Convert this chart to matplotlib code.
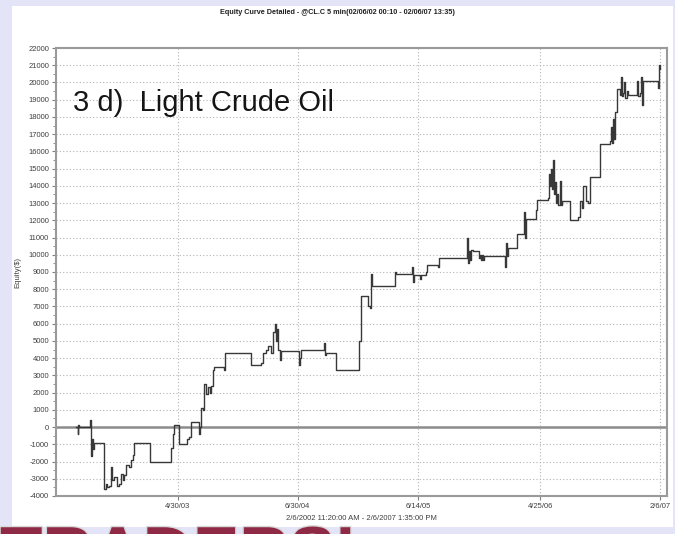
import matplotlib.pyplot as plt
import matplotlib.patheffects as pe
from matplotlib.patches import Rectangle
import numpy as np

plt.rcParams['font.family'] = ['Liberation Sans', 'DejaVu Sans']
plt.rcParams['axes.unicode_minus'] = False

# equity curve (x = bar position along the axis)
bar = [20, 22, 22.5, 23.5, 34, 35, 36, 37, 38, 48, 50, 51, 53, 55, 56, 58, 61, 63, 65, 67,
       68, 70, 73, 75, 77, 78, 94, 115, 117, 118, 123, 131, 133, 135, 143, 144, 145, 147,
       148, 150, 152, 154, 155, 157, 158, 168, 169, 195, 205, 207, 210, 212, 215, 217,
       219, 220, 221, 222, 224, 225, 243, 244, 245, 268, 269, 270, 280, 303, 305, 313,
       315, 316, 317, 340, 341, 357, 358, 359, 365, 366, 371, 372, 383, 384, 412, 413,
       414, 415, 416, 418, 424, 425, 426, 427, 428, 429, 450, 451, 452, 453, 462, 469,
       470, 471, 481, 482, 493, 494, 495, 496, 497, 498, 499, 500, 501, 502, 503, 505,
       506, 507, 515, 523, 525, 527, 528, 531, 533, 535, 545, 555, 556, 557, 558, 559,
       560, 562, 565, 566, 567, 568, 569, 570, 572, 573, 582, 583, 585, 586, 587, 588,
       603, 604, 605]
equity = [0, -400, 100, 0, 400, -1700, -700, -1300, -900, -3600, -3300, -3500, -3400,
          -2300, -3100, -2900, -3400, -3300, -2700, -3100, -2800, -2200, -2300, -1900,
          -1600, -900, -2000, -1200, -400, 100, -1000, -700, -600, 300, -400, 0, 1100,
          1000, 2500, 1900, 2300, 2000, 2400, 3300, 3500, 3300, 4300, 3600, 3700, 4300,
          4500, 4700, 4300, 5500, 6000, 5000, 5700, 4500, 3900, 4400, 3600, 4000, 4500,
          4900, 4200, 4300, 3300, 5000, 7600, 7000, 6900, 8900, 8200, 9000, 8900, 9300,
          8400, 8800, 8600, 8800, 9000, 9400, 9300, 9800, 11000, 9500, 10200, 9700, 10300,
          10200, 9800, 10000, 9700, 10000, 9700, 9900, 9300, 10700, 9900, 10400, 11200,
          12500, 11000, 12100, 12600, 13200, 13300, 14700, 14000, 15000, 13800, 15500,
          13500, 14200, 13000, 13500, 12900, 14300, 12900, 13100, 12000, 12200, 13100,
          12700, 14000, 13100, 13000, 14500, 16400, 16600, 17400, 16500, 17900, 16700,
          18300, 19600, 19300, 20300, 19200, 19400, 20000, 19100, 19500, 19300, 20100,
          19200, 19400, 20300, 18700, 20100, 19700, 21000, 20800]

tick_pos = [122, 242, 363, 485, 605]
tick_labels = ['4/30/03', '6/30/04', '6/14/05', '4/25/06', '2/6/07']

fig = plt.figure(figsize=(6.75, 5.34), dpi=100)
fig.patch.set_facecolor('#E4E4F8')

# white slide panel, kept behind the axes
fig.patches.append(Rectangle((12 / 675, 1 - 527 / 534), 661 / 675, 521 / 534,
                             transform=fig.transFigure, facecolor='white',
                             edgecolor='none', zorder=-5))

ax = fig.add_axes([56 / 675, 1 - 496 / 534, 611 / 675, 448 / 534])
ax.set_zorder(1)
ax.step(bar, equity, where='post', color='#383838', lw=1.0, zorder=3)
ax.axhline(0, color='#8c8c8c', lw=1.8, zorder=2)

ax.set_xlim(0, 612)
ax.set_ylim(-4000, 22000)
ax.set_xticks(tick_pos)
ax.set_xticklabels(tick_labels)
ax.set_yticks(np.arange(-4000, 22001, 1000))
ax.set_yticks(np.arange(-3500, 22000, 1000), minor=True)
ax.grid(True, which='major', color='#b4b4b4', linestyle=(0, (1, 2)), lw=0.8)
ax.tick_params(axis='both', which='major', labelsize=5.5, length=3, width=0.8,
               color='#808080', labelcolor='#404040', pad=2)
ax.tick_params(axis='y', which='minor', length=2, width=0.6, color='#808080')
for s in ax.spines.values():
    s.set_color('#9a9a9a')
    s.set_linewidth(1.5)

ax.set_ylabel('Equity($)', fontsize=5.5, color='#404040', labelpad=5)
ax.set_xlabel('2/6/2002 11:20:00 AM - 2/6/2007 1:35:00 PM', fontsize=5.5,
              color='#404040', labelpad=4)

fig.text(0.5, 1 - 13 / 534,
         'Equity Curve Detailed - @CL.C 5 min(02/06/02 00:10 - 02/06/07 13:35)',
         ha='center', va='center', fontsize=5.2, fontweight='bold', color='#202020')

ax.text(17, 18800, '3 d)  Light Crude Oil', fontsize=21, color='#151515',
        ha='left', va='center', zorder=4)

# logo strip at the bottom, mostly cut off
fig.text(0.0, 1 - 525 / 534, "TRADERS\u2019", ha='left', va='top', fontsize=50,
         fontweight='bold', color='#8E2A45',
         path_effects=[pe.withStroke(linewidth=2, foreground='#d8d8d8')])

fig.savefig('out.png', dpi=100, facecolor=fig.get_facecolor())
